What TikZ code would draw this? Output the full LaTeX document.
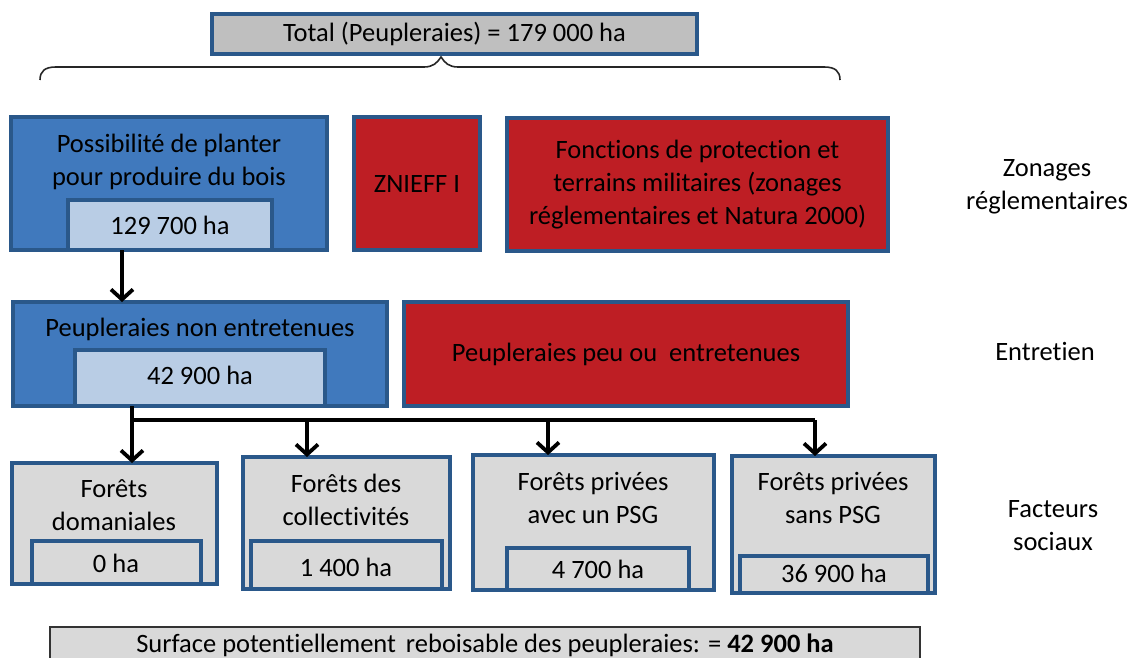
\documentclass[tikz,border=0pt]{standalone}
\usepackage{fontspec}
\setmainfont{Carlito}[Ligatures={NoCommon,NoContextual},Contextuals=NoAlternate]
\usetikzlibrary{arrows.meta}
\newcommand\tiNL{t\kern0pt i}
\definecolor{bfill}{RGB}{64,121,189}
\definecolor{bline}{RGB}{42,88,138}
\definecolor{lblue}{RGB}{185,205,229}
\definecolor{rfill}{RGB}{190,30,36}
\definecolor{gtot}{RGB}{191,191,191}
\definecolor{gbox}{RGB}{217,217,217}
\tikzset{
  boxbase/.style={draw=bline, line width=3.5pt, inner sep=0pt, outer sep=0pt},
  bluebox/.style={boxbase, fill=bfill},
  lightbox/.style={boxbase, fill=lblue},
  redbox/.style={boxbase, fill=rfill},
  graybox/.style={boxbase, fill=gbox},
  totbox/.style={boxbase, fill=gtot},
  sumbox/.style={draw=black!80, line width=1.5pt, fill=gbox, inner sep=0pt},
  txt/.style={align=center, inner sep=0pt, font=\fontsize{26.5}{33}\selectfont},
  arr/.style={line width=3.5pt, -{Straight Barb[length=10pt,width=22pt,line width=3.8pt]}},
  conn/.style={line width=3.5pt},
  bracel/.style={line width=1.6pt, black!85}
}
\begin{document}
\begin{tikzpicture}[x=1pt,y=-1pt]
\useasboundingbox[fill=white] (0,0) rectangle (1129,658);
% top total
\node[totbox, minimum width=485pt, minimum height=40pt] (tot) at (454.5,34) {};
\node[txt] (tott) at (tot.center) {Total (Peupleraies) = 179 000 ha};
\draw[bracel] (40,80) .. controls (40,71) and (45,67) .. (56,67) -- (424,67)
  .. controls (433,67) and (437,63) .. (441,57)
  .. controls (445,63) and (449,67) .. (458,67) -- (824,67)
  .. controls (835,67) and (840,71) .. (840,80);
% row 1
\node[bluebox, minimum width=316pt, minimum height=133pt] (b1) at (169,183.5) {};
\node[lightbox, minimum width=204pt, minimum height=50pt] (b1in) at (170,225) {};
\node[txt] (b1t) at (169,161.5) {Possibilité de planter\\pour produire du bois};
\node[txt] (b1v) at (b1in.center) {129 700 ha};
\node[redbox, minimum width=126pt, minimum height=133pt] (z1) at (417,183.5) {};
\node[txt] (z1t) at (z1.center) {ZNIEFF I};
\node[redbox, minimum width=381pt, minimum height=133pt] (f1) at (697.5,184.5) {};
\node[txt] (f1t) at (697.5,185) {Fonc\tiNL ons de protec\tiNL on et\\terrains militaires (zonages\\réglementaires et Natura 2000)};
\node[txt] (lab1) at (1047,187) {Zonages\\réglementaires};
% row 2
\node[bluebox, minimum width=374pt, minimum height=104pt] (b2) at (200,354) {};
\node[lightbox, minimum width=250pt, minimum height=56pt] (b2in) at (200,378) {};
\node[txt] (b2t) at (200,329) {Peupleraies non entretenues};
\node[txt] (b2v) at (200,375) {42 900 ha};
\node[redbox, minimum width=444pt, minimum height=104pt] (r2) at (626,354) {};
\node[txt] (r2t) at (r2.center) {Peupleraies peu ou~ entretenues};
\node[txt] (lab2) at (1045,351) {Entre\tiNL en};
% row 3
\node[graybox, minimum width=205pt, minimum height=121pt] (g1) at (114.5,523.5) {};
\node[graybox, minimum width=169pt, minimum height=43pt] (g1in) at (116.5,562.5) {};
\node[txt] (g1t) at (114,505) {Forêts\\domaniales};
\node[txt] (g1v) at (116,563) {0 ha};
\node[graybox, minimum width=207pt, minimum height=132pt] (g2) at (346.5,523) {};
\node[graybox, minimum width=191pt, minimum height=48pt] (g2in) at (346.5,565) {};
\node[txt] (g2t) at (346,500) {Forêts des\\collec\tiNL vités};
\node[txt] (g2v) at (346,567) {1 400 ha};
\node[graybox, minimum width=241pt, minimum height=135pt] (g3) at (593.5,522.5) {};
\node[graybox, minimum width=182pt, minimum height=42pt] (g3in) at (598,569) {};
\node[txt] (g3t) at (593,497.5) {Forêts privées\\avec un PSG};
\node[txt] (g3v) at (598,569) {4 700 ha};
\node[graybox, minimum width=203pt, minimum height=137pt] (g4) at (833.5,524.5) {};
\node[graybox, minimum width=188pt, minimum height=37pt] (g4in) at (834,574.5) {};
\node[txt] (g4t) at (833,497.5) {Forêts privées\\sans PSG};
\node[txt] (g4v) at (834,573) {36 900 ha};
\node[txt] (lab3) at (1053,526) {Facteurs\\sociaux};
% summary
\node[sumbox, minimum width=870pt, minimum height=53pt] (sum) at (485,653.5) {};
\node[txt] (sumt) at (485,645) {Surface poten\tiNL ellement\hspace{4pt} reboisable des peupleraies: = \textbf{42 900 ha}};
% connectors
\draw[arr] ([xshift=54pt]b1in.south west) -- ([xshift=54pt]b1in.south west |- b2.north);
\coordinate (h1) at (132,420);
\coordinate (h2) at (307,420);
\coordinate (h3) at (548,420);
\coordinate (h4) at (815,420);
\draw[conn] ([xshift=57pt]b2in.south west) -- (h1);
\draw[conn] (h1) -- (h4);
\draw[arr] (h1) -- (h1 |- g1.north);
\draw[arr] (h2) -- (h2 |- g2.north);
\draw[arr] (h3) -- (h3 |- g3.north);
\draw[arr] (h4) -- (h4 |- g4.north);
\end{tikzpicture}
\end{document}
